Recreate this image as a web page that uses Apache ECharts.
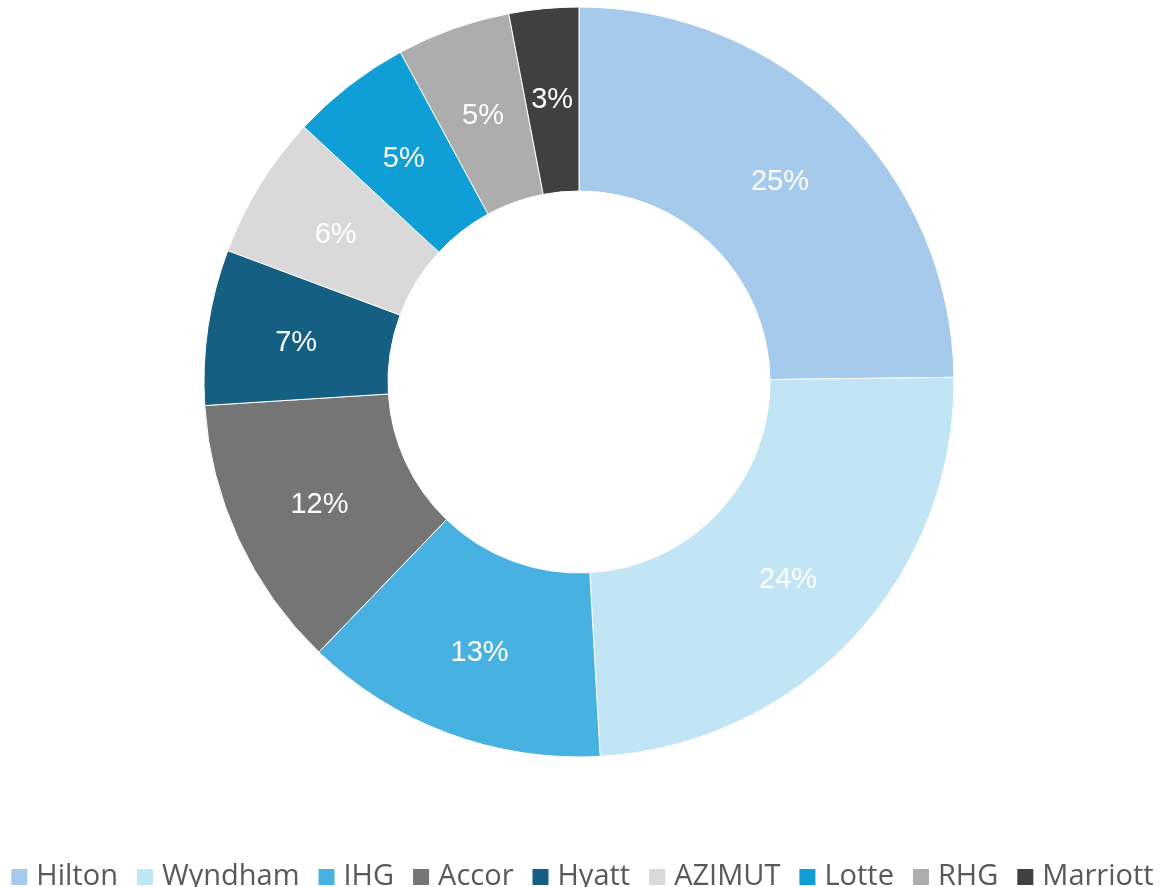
<!DOCTYPE html>
<html>
<head>
<meta charset="utf-8">
<script src="https://cdn.jsdelivr.net/npm/echarts@6/dist/echarts.min.js"></script>
<style>
  html, body { margin: 0; padding: 0; background: #fff; }
  #chart { width: 1165px; height: 887px; }
</style>
</head>
<body>
<div id="chart"></div>
<script>
// brands and their share
const brands = ['Hilton', 'Wyndham', 'IHG', 'Accor', 'Hyatt', 'AZIMUT', 'Lotte', 'RHG', 'Marriott'];
const shares = [24.8, 24.3, 13.1, 11.8, 6.7, 6.2, 5.2, 4.9, 3.0];
const colors = ['#A6CAEC', '#C1E5F5', '#47B1E1', '#757575', '#155F82', '#D9D9D9', '#0F9ED5', '#ADADAD', '#404040'];

const myChart = echarts.init(document.getElementById('chart'));

const option = {
  animation: false,
  color: colors,
  legend: {
    data: brands,
    top: 862,
    left: 'center',
    width: 1165,
    padding: 0,
    itemWidth: 16,
    itemHeight: 16,
    itemGap: 19,
    icon: 'rect',
    itemStyle: { borderWidth: 0 },
    textStyle: {
      fontFamily: 'Open Sans',
      fontSize: 29,
      lineHeight: 30,
      color: '#595959',
      padding: [0, 0, 0, 4]
    }
  },
  series: [
    {
      type: 'pie',
      center: [579, 382],
      radius: [191, 375],
      startAngle: 90,
      clockwise: true,
      avoidLabelOverlap: false,
      itemStyle: {
        borderColor: '#fff',
        borderWidth: 1
      },
      label: {
        show: true,
        position: 'inside',
        formatter: (p) => Math.round(p.percent) + '%',
        color: '#fff',
        fontFamily: 'Liberation Sans',
        fontSize: 29,
        offset: [0, 3]
      },
      labelLine: { show: false },
      emphasis: { disabled: true },
      data: brands.map((name, i) => ({ name: name, value: shares[i] }))
    }
  ]
};

myChart.setOption(option);
</script>
</body>
</html>
